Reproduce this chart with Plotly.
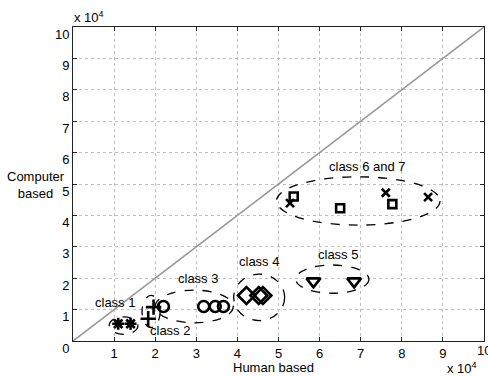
import plotly.graph_objects as go

# Point data (units of 1e4)
class1_x = [1.1, 1.4]
class1_y = [0.55, 0.55]
class2_x = [1.83, 1.96]
class2_y = [0.71, 1.08]
class3_x = [2.2, 3.18, 3.46, 3.66]
class3_y = [1.1, 1.1, 1.1, 1.1]
class4_x = [4.22, 4.52, 4.62]
class4_y = [1.45, 1.45, 1.45]
class5_x = [5.85, 6.84]
class5_y = [1.9, 1.9]
class6_x = [5.37, 6.5, 7.77]
class6_y = [4.6, 4.23, 4.36]
class7_x = [5.28, 7.61, 8.64]
class7_y = [4.39, 4.72, 4.58]

# Group ellipses: centre x, centre y, radius x, radius y
ell_cx = [1.23, 1.90, 2.95, 4.53, 6.31, 6.94]
ell_cy = [0.49, 0.94, 1.10, 1.39, 1.97, 4.46]
ell_rx = [0.35, 0.22, 0.95, 0.62, 0.89, 1.99]
ell_ry = [0.28, 0.51, 0.52, 0.74, 0.45, 0.77]

# Group labels
label_text = ["class 1", "class 2", "class 3", "class 4", "class 5", "class 6 and 7"]
label_x = [1.03, 2.37, 3.05, 4.52, 6.44, 7.16]
label_y = [1.22, 0.32, 2.0, 2.53, 2.77, 5.57]

ticks = list(range(0, 11))
x_ticktext = ["" if t in (0, 10) else str(t) for t in ticks]
y_ticktext = [str(t) for t in ticks]

FONT = "Liberation Sans, Arial, sans-serif"

fig = go.Figure()

# identity line
fig.add_trace(go.Scatter(x=[0, 10], y=[0, 10], mode="lines",
                         line=dict(color="#999999", width=1.6), hoverinfo="skip"))

series = [
    (class1_x, class1_y, "asterisk-open", 10),
    (class2_x, class2_y, "cross-thin-open", 11),
    (class3_x, class3_y, "circle-open", 11),
    (class4_x, class4_y, "diamond-open", 13),
    (class5_x, class5_y, "triangle-down-open", 12),
    (class6_x, class6_y, "square-open", 8),
    (class7_x, class7_y, "x-thin-open", 8),
]
for xs, ys, sym, sz in series:
    fig.add_trace(go.Scatter(x=xs, y=ys, mode="markers",
                             marker=dict(symbol=sym, size=sz, color="black",
                                         line=dict(color="black", width=2.6))))

for cx, cy, rx, ry in zip(ell_cx, ell_cy, ell_rx, ell_ry):
    fig.add_shape(type="circle", xref="x", yref="y",
                  x0=cx - rx, x1=cx + rx, y0=cy - ry, y1=cy + ry,
                  line=dict(color="black", width=1.3, dash="dash"))

for t, x, y in zip(label_text, label_x, label_y):
    fig.add_annotation(x=x, y=y, text=t, showarrow=False,
                       font=dict(family=FONT, size=13, color="black"))

axis_common = dict(
    range=[0, 10], tickvals=ticks,
    showgrid=True, gridcolor="#c0c0c0", griddash="dot", gridwidth=1,
    zeroline=False, showline=True, linecolor="#222222", linewidth=1,
    mirror="ticks", ticks="inside", ticklen=4, tickcolor="#222222",
    tickfont=dict(family=FONT, size=13, color="black"),
)

fig.update_layout(
    width=488, height=376,
    margin=dict(l=73, r=4, t=27, b=35),
    paper_bgcolor="white", plot_bgcolor="white",
    showlegend=False,
    xaxis=dict(**axis_common, ticktext=x_ticktext),
    yaxis=dict(**axis_common, ticktext=y_ticktext, ticklabelshift=7),
)

# last x label running off the edge
fig.add_annotation(xref="x", yref="paper", x=10, y=0, yshift=-9,
                   text="10", showarrow=False, xanchor="center", yanchor="middle",
                   font=dict(family=FONT, size=13, color="black"))

# axis titles and exponent notes
fig.add_annotation(xref="paper", yref="paper", x=0.488, y=0, yshift=-26,
                   text="Human based", showarrow=False, xanchor="center",
                   yanchor="middle",
                   font=dict(family=FONT, size=13, color="black"))
fig.add_annotation(xref="paper", yref="paper", x=0, xshift=-37, y=0.497,
                   text="Computer<br>based", showarrow=False, align="center",
                   xanchor="center", yanchor="middle",
                   font=dict(family=FONT, size=13, color="black"))
fig.add_annotation(xref="paper", yref="paper", x=0, y=1, yshift=1,
                   xanchor="left", yanchor="bottom", borderpad=0,
                   text="x 10<sup>4</sup>", showarrow=False,
                   font=dict(family=FONT, size=13, color="black"))
fig.add_annotation(xref="paper", yref="paper", x=1, xshift=-6, y=0, yshift=-18,
                   xanchor="right", yanchor="top", borderpad=0,
                   text="x 10<sup>4</sup>", showarrow=False,
                   font=dict(family=FONT, size=13, color="black"))

fig.write_html("out.html")
